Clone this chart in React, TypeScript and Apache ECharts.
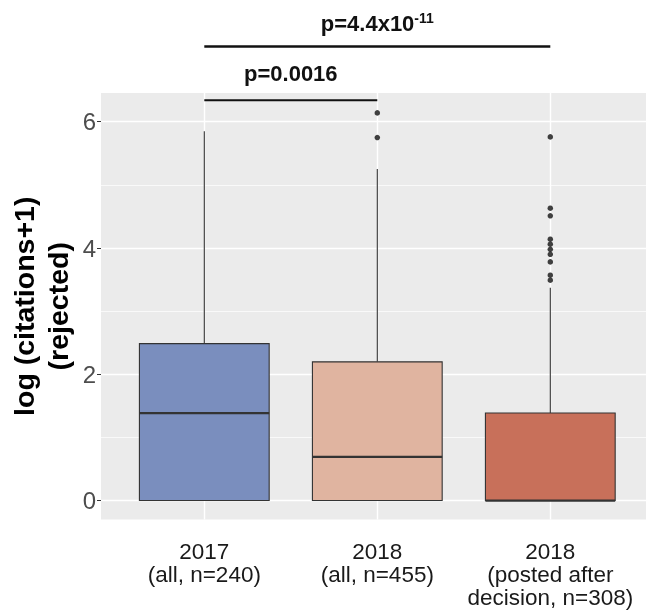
import React, { useEffect, useRef } from 'react';
import * as echarts from 'echarts';

// ---- data ----
const categories = ['2017\n(all, n=240)', '2018\n(all, n=455)', '2018\n(posted after\ndecision, n=308)'];
const whiskerLow = [0, 0, 0];
const q1 = [0, 0, 0];
const median = [1.386, 0.693, 0];
const q3 = [2.485, 2.197, 1.386];
const whiskerHigh = [5.85, 5.25, 3.37];
const outliers2017: number[] = [];
const outliers2018All = [6.14, 5.75];
const outliers2018Posted = [5.76, 4.63, 4.51, 4.14, 4.06, 3.98, 3.9, 3.78, 3.57, 3.49];
const boxColors = ['#7A8EBE', '#E0B4A0', '#C8705A'];
const yMajorTicks = [0, 2, 4, 6];
const yMinorTicks = [1, 3, 5];
const categoryPositions = [1, 2, 3];
const pShort = 'p=0.0016';
const pLongBase = 'p=4.4x10';
const pLongExp = '-11';
const yTitle = 'log (citations+1)\n(rejected)';

// ---- layout (annotation heights in data units) ----
const Y_MIN = -0.3;
const Y_MAX = 6.455;
const SHORT_BRACKET_Y = 6.34;
const SHORT_TEXT_Y = 6.77;
const LONG_BRACKET_Y = 7.19;
const LONG_TEXT_Y = 7.56;
const FONT = '"Liberation Sans", Arial, Helvetica, sans-serif';

export default function App() {
  const ref = useRef<HTMLDivElement>(null);
  useEffect(() => {
    if (!ref.current) return;
    const chart = echarts.init(ref.current, null, { renderer: 'svg' });

    const boxData = categories.map((_, i) => [i, whiskerLow[i], q1[i], median[i], q3[i], whiskerHigh[i]]);
    const outlierData: number[][] = [];
    [outliers2017, outliers2018All, outliers2018Posted].forEach((arr, i) => arr.forEach(v => outlierData.push([i, v])));

    const white = '#FFFFFF';
    const gridMarks = [
      ...yMajorTicks.map(v => ({ yAxis: v, lineStyle: { color: white, width: 1.4, type: 'solid' } })),
      ...yMinorTicks.map(v => ({ yAxis: v, lineStyle: { color: white, width: 0.7, type: 'solid' } })),
      ...categoryPositions.map(v => ({ xAxis: v, lineStyle: { color: white, width: 1.4, type: 'solid' } })),
    ];

    const option: any = {
      animation: false,
      textStyle: { fontFamily: FONT },
      grid: [
        { left: 101, right: -8, top: 93, bottom: 90.5, show: true, backgroundColor: '#EBEBEB', borderWidth: 0, containLabel: false, outerBoundsMode: 'none' },
        { left: 117.8, right: 9.2, top: 93, bottom: 90.5, containLabel: false, outerBoundsMode: 'none' },
      ],
      xAxis: [
        { type: 'value', gridIndex: 0, min: 0.4, max: 3.6, show: false },
        {
          type: 'category', gridIndex: 1, data: categories, boundaryGap: true,
          axisLine: { show: false },
          axisTick: { show: true, alignWithLabel: true, length: 4, lineStyle: { color: '#333333', width: 1 } },
          axisLabel: { fontSize: 22.5, color: '#1A1A1A', lineHeight: 23, margin: 20, fontFamily: FONT, interval: 0 },
          splitLine: { show: false },
        },
      ],
      yAxis: [
        {
          type: 'value', gridIndex: 0, min: Y_MIN, max: Y_MAX, splitNumber: 3,
          axisLine: { show: false },
          axisTick: { show: true, length: 4, lineStyle: { color: '#333333', width: 1 } },
          axisLabel: {
            fontSize: 24, color: '#4D4D4D', margin: 5, fontFamily: FONT,
            showMinLabel: false, showMaxLabel: false,
            formatter: (v: number) => (yMajorTicks.includes(v) ? String(v) : ''),
          },
          splitLine: { show: false },
        },
        { type: 'value', gridIndex: 1, min: Y_MIN, max: Y_MAX, show: false },
      ],
      series: [
        {
          type: 'line', xAxisIndex: 0, yAxisIndex: 0, data: [], silent: true, z: 1,
          markLine: { silent: true, symbol: 'none', z: 1, label: { show: false }, animation: false, data: gridMarks },
        },
        {
          type: 'custom', xAxisIndex: 1, yAxisIndex: 1, z: 3, silent: true,
          data: boxData,
          encode: { x: 0, y: [1, 2, 3, 4, 5] },
          renderItem: (params: any, api: any) => {
            const i = api.value(0);
            const cx = api.coord([i, api.value(3)])[0];
            const yLo = api.coord([i, api.value(1)])[1];
            const yQ1 = api.coord([i, api.value(2)])[1];
            const yMed = api.coord([i, api.value(3)])[1];
            const yQ3 = api.coord([i, api.value(4)])[1];
            const yHi = api.coord([i, api.value(5)])[1];
            const bw = api.size([1, 0])[0] * 0.75;
            const stroke = '#333333';
            return {
              type: 'group',
              children: [
                { type: 'line', shape: { x1: cx, y1: yHi, x2: cx, y2: yQ3 }, style: { stroke, lineWidth: 1.1 } },
                { type: 'line', shape: { x1: cx, y1: yQ1, x2: cx, y2: yLo }, style: { stroke, lineWidth: 1.1 } },
                { type: 'rect', shape: { x: cx - bw / 2, y: yQ3, width: bw, height: yQ1 - yQ3 }, style: { fill: boxColors[params.dataIndex], stroke, lineWidth: 1.1 } },
                { type: 'line', shape: { x1: cx - bw / 2, y1: yMed, x2: cx + bw / 2, y2: yMed }, style: { stroke, lineWidth: 2.2 } },
              ],
            };
          },
        },
        {
          type: 'scatter', xAxisIndex: 1, yAxisIndex: 1, z: 4, silent: true,
          data: outlierData, symbol: 'circle', symbolSize: 5.5,
          itemStyle: { color: '#111111' },
        },
      ],
    };
    chart.setOption(option);

    const px = (i: number, v: number) => chart.convertToPixel({ xAxisIndex: 1, yAxisIndex: 1 } as any, [i, v]) as number[];
    const sA = px(0, SHORT_BRACKET_Y);
    const sB = px(1, SHORT_BRACKET_Y);
    const lA = px(0, LONG_BRACKET_Y);
    const lB = px(2, LONG_BRACKET_Y);
    const sT = px(0, SHORT_TEXT_Y);
    const lT = px(1, LONG_TEXT_Y);
    const yMid = (chart.convertToPixel({ yAxisIndex: 0 } as any, (Y_MIN + Y_MAX) / 2) as number);

    chart.setOption({
      graphic: [
        {
          type: 'text', x: 41, y: yMid, rotation: Math.PI / 2, z: 10,
          style: { text: yTitle, fontSize: 28.5, fontWeight: 'bold', fontFamily: FONT, fill: '#000', align: 'center', verticalAlign: 'middle', lineHeight: 34 },
        },
        { type: 'line', z: 10, shape: { x1: sA[0], y1: sA[1], x2: sB[0], y2: sB[1] }, style: { stroke: '#111', lineWidth: 2.2 } },
        { type: 'line', z: 10, shape: { x1: lA[0], y1: lA[1], x2: lB[0], y2: lB[1] }, style: { stroke: '#111', lineWidth: 2.5 } },
        {
          type: 'text', z: 10, x: (sA[0] + sB[0]) / 2, y: sT[1],
          style: { text: pShort, fontSize: 22, fontWeight: 'bold', fontFamily: FONT, fill: '#111', align: 'center', verticalAlign: 'middle' },
        },
        {
          type: 'text', z: 10, x: lT[0], y: lT[1],
          style: {
            text: '{b|' + pLongBase + '}{s|' + pLongExp + '}',
            align: 'center', verticalAlign: 'middle',
            rich: {
              b: { fontSize: 22, fontWeight: 'bold', fontFamily: FONT, fill: '#111', lineHeight: 24 },
              s: { fontSize: 14, fontWeight: 'bold', fontFamily: FONT, fill: '#111', verticalAlign: 'top', lineHeight: 14 },
            },
          },
        },
      ],
    });

    return () => chart.dispose();
  }, []);
  return <div ref={ref} style={{ position: 'fixed', left: 0, top: 0, width: 646, height: 610 }} />;
}
